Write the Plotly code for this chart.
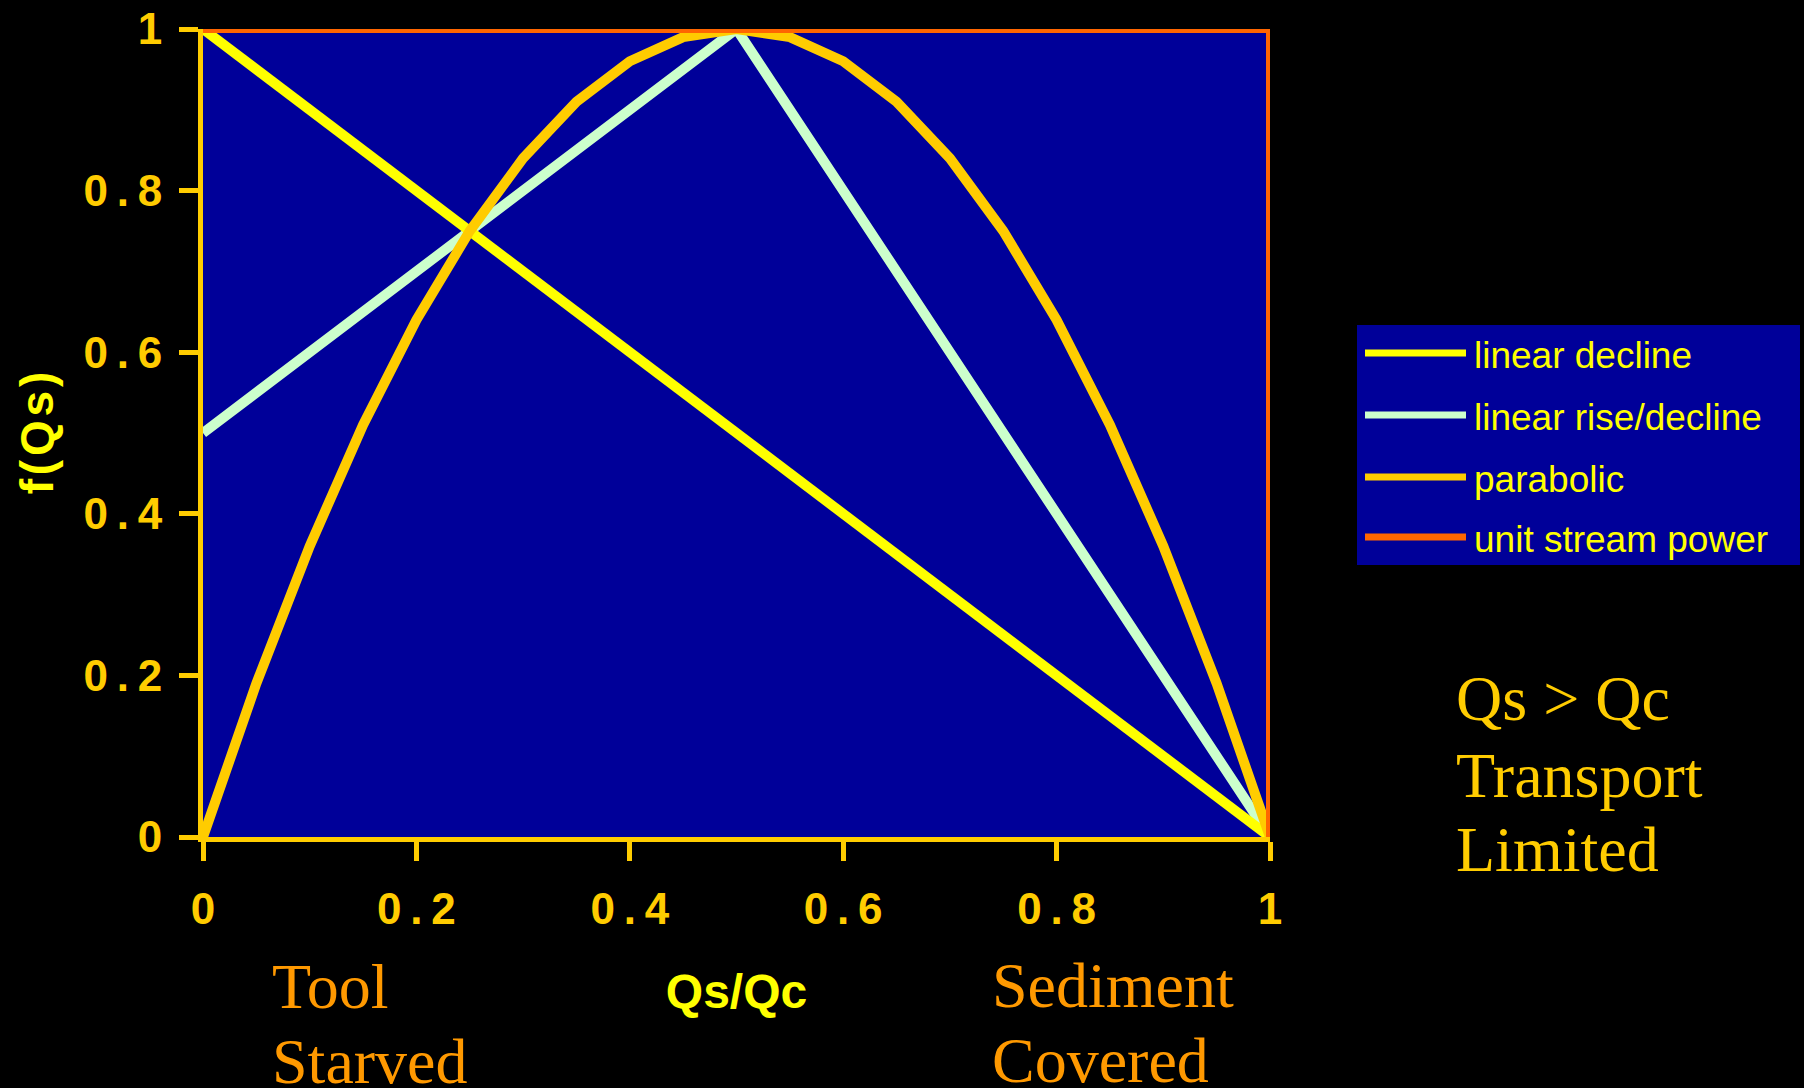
import plotly.graph_objects as go

# ---------------- data ----------------
qs_parab = [0, 0.05, 0.1, 0.15, 0.2, 0.25, 0.3, 0.35, 0.4, 0.45, 0.5,
            0.55, 0.6, 0.65, 0.7, 0.75, 0.8, 0.85, 0.9, 0.95, 1.0]
f_parab = [0, 0.19, 0.36, 0.51, 0.64, 0.75, 0.84, 0.91, 0.96, 0.99, 1.0,
           0.99, 0.96, 0.91, 0.84, 0.75, 0.64, 0.51, 0.36, 0.19, 0]

qs_lin_decl = [0, 1]
f_lin_decl = [1, 0]

qs_lin_rise = [0, 0.5, 1]
f_lin_rise = [0.5, 1, 0]

qs_unit = [0, 1, 1]
f_unit = [1, 1, 0]

series_names = ["linear decline", "linear rise/decline", "parabolic", "unit stream power"]
series_colors = ["#FFFF00", "#CCFFCC", "#FFCC00", "#FF6600"]

tick_vals = [0, 0.2, 0.4, 0.6, 0.8, 1]
tick_text = ["0", "0\u2009.\u20092", "0\u2009.\u20094", "0\u2009.\u20096", "0\u2009.\u20098", "1"]

# ---------------- layout geometry helpers (pixel -> paper) ----------------
W, H = 1804, 1088
L, R, T, B = 203, 1270, 29, 837


def px(x):
    return (x - L) / (R - L)


def py(y):
    return (B - y) / (B - T)


fig = go.Figure()

fig.add_trace(go.Scatter(x=qs_lin_rise, y=f_lin_rise, mode="lines", name=series_names[1],
                         line=dict(color=series_colors[1], width=10), showlegend=False))
fig.add_trace(go.Scatter(x=qs_lin_decl, y=f_lin_decl, mode="lines", name=series_names[0],
                         line=dict(color=series_colors[0], width=10), showlegend=False))
fig.add_trace(go.Scatter(x=qs_parab, y=f_parab, mode="lines", name=series_names[2],
                         line=dict(color=series_colors[2], width=10), showlegend=False))
fig.add_trace(go.Scatter(x=qs_unit, y=f_unit, mode="lines", name=series_names[3],
                         line=dict(color=series_colors[3], width=8), showlegend=False))

axis_common = dict(
    range=[0, 1],
    automargin=False,
    tickmode="array",
    tickvals=tick_vals,
    ticktext=tick_text,
    showgrid=False,
    zeroline=False,
    showline=True,
    linecolor="#FFCC00",
    linewidth=5,
    ticks="outside",
    ticklen=19,
    tickwidth=5,
    tickcolor="#FFCC00",
    tickfont=dict(family="Liberation Sans, Arial, sans-serif", size=44, color="#FFCC00",
                  weight="bold"),
)

fig.update_layout(
    width=W,
    height=H,
    paper_bgcolor="#000000",
    plot_bgcolor="#000099",
    margin=dict(l=L, r=W - R, t=T, b=H - B),
    showlegend=False,
    xaxis=dict(**axis_common, ticklabelstandoff=10,
               title=dict(text="Qs/Qc", standoff=44,
                          font=dict(family="Liberation Sans, Arial, sans-serif", size=48,
                                    color="#FFFF00", weight="bold"))),
    yaxis=dict(**axis_common, ticklabelstandoff=8,
               title=dict(text="f\u200a(\u200aQ\u200as\u200a)", standoff=17,
                          font=dict(family="Liberation Sans, Arial, sans-serif", size=46,
                                    color="#FFFF00", weight="bold"))),
)

# ---------------- legend (drawn as a box with sample lines) ----------------
shapes = [dict(type="rect", xref="paper", yref="paper",
               x0=px(1357), x1=px(1800), y0=py(565), y1=py(325),
               fillcolor="#000099", line=dict(width=0), layer="above")]
annotations = []
legend_y = [353, 415, 477, 537]
for name, color, ly in zip(series_names, series_colors, legend_y):
    shapes.append(dict(type="line", xref="paper", yref="paper",
                       x0=px(1365), x1=px(1466), y0=py(ly), y1=py(ly),
                       line=dict(color=color, width=7), layer="above"))
    annotations.append(dict(xref="paper", yref="paper", x=px(1472), y=py(ly + 2),
                            xanchor="left", yanchor="middle", showarrow=False, text=name,
                            font=dict(family="Liberation Sans, Arial, sans-serif", size=37,
                                      color="#FFFF00")))

# ---------------- text annotations ----------------
serif = "Liberation Serif, Times New Roman, serif"
text_items = [
    ("Tool", 270, 1008, "#FF9900"),
    ("Starved", 270, 1083, "#FF9900"),
    ("Sediment", 990, 1007, "#FF9900"),
    ("Covered", 990, 1082, "#FF9900"),
    ("Qs &gt; Qc", 1454, 720, "#FFCC00"),
    ("Transport", 1454, 797, "#FFCC00"),
    ("Limited", 1454, 872, "#FFCC00"),
]
for txt, x, baseline, color in text_items:
    annotations.append(dict(xref="paper", yref="paper", x=px(x), y=py(baseline - 22),
                            xanchor="left", yanchor="middle", showarrow=False, text=txt,
                            font=dict(family=serif, size=64, color=color)))

fig.update_layout(shapes=shapes, annotations=annotations)

fig.write_html("out.html",
               config={"displayModeBar": False},
               post_script="document.body.style.margin='0';"
                           "document.body.style.background='#000000';"
                           "document.body.style.overflow='hidden';")
